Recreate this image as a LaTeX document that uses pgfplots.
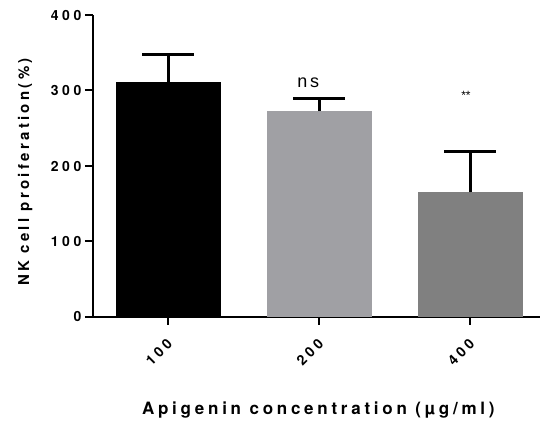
\documentclass[border=0pt]{standalone}
\usepackage{fontspec}
\setmainfont{Liberation Sans}
\newfontfamily\spacedf[LetterSpace=22]{TeX Gyre Heros}
\newfontfamily\tickf[LetterSpace=26]{TeX Gyre Heros}
\newcommand\spaced{\spacedf\bfseries}
\newcommand\tickfont{\tickf\bfseries}
\newfontfamily\spacedr[LetterSpace=15]{Liberation Sans}
\usepackage{pgfplots}
\pgfplotsset{compat=1.18}
\definecolor{bartwo}{RGB}{160,160,164}
\definecolor{barthree}{RGB}{128,128,128}
\begin{document}
\begin{tikzpicture}
\begin{axis}[
  scale only axis, width=447pt, height=302pt,
  xmin=-0.497, xmax=2.46, ymin=0, ymax=400,
  axis x line*=bottom, axis y line*=left,
  axis line style={line width=2pt, black},
  ytick={0,100,200,300,400}, xtick={0,1,2}, xticklabels={100,200,400},
  tick align=outside, major tick length=8pt,
  tick style={line width=2pt, black},
  minor tick num=0,
  /pgf/number format/assume math mode=true,
  y tick label style={font=\tickfont\fontsize{14}{14}\selectfont},
  x tick label style={yshift=-14pt, xshift=4pt, rotate=45, anchor=east, font=\tickfont\fontsize{14}{14}\selectfont},
  every axis y label/.style={at={(axis description cs:-0.152,0.48)}, rotate=90, anchor=center, font=\spaced\fontsize{15}{15}\selectfont},
  every axis x label/.style={at={(axis description cs:0.504,-0.308)}, anchor=center, font=\spaced\fontsize{17}{17}\selectfont},
  ylabel={NK cell proiferation(\%)},
  xlabel={Apigenin concentration (µg/ml)},
  clip=false,
]
\addplot[ybar, bar width=0.695, bar shift=0pt, fill=black, draw=none,
  error bars/.cd, y dir=plus, y explicit,
  error bar style={line width=3pt, black},
  error mark options={rotate=90, mark size=26pt, line width=3pt, black}]
  coordinates {(0,311.7) +- (0,36.5)};
\addplot[ybar, bar width=0.695, bar shift=0pt, fill=bartwo, draw=none,
  error bars/.cd, y dir=plus, y explicit,
  error bar style={line width=3pt, black},
  error mark options={rotate=90, mark size=26pt, line width=3pt, black}]
  coordinates {(1,272.8) +- (0,16.8)};
\addplot[ybar, bar width=0.695, bar shift=0pt, fill=barthree, draw=none,
  error bars/.cd, y dir=plus, y explicit,
  error bar style={line width=3pt, black},
  error mark options={rotate=90, mark size=26pt, line width=3pt, black}]
  coordinates {(2,165) +- (0,53.8)};
\node[font=\spacedr\fontsize{18}{18}\selectfont] at (axis cs:0.927,310) {ns};
\node[font=\fontsize{12}{12}\selectfont] at (axis cs:1.97,294) {**};
\end{axis}
\pgfresetboundingbox
\useasboundingbox ([xshift=-93pt,yshift=-113pt]current axis.south west) rectangle ([xshift=2pt,yshift=15pt]current axis.north east);
\end{tikzpicture}
\end{document}
